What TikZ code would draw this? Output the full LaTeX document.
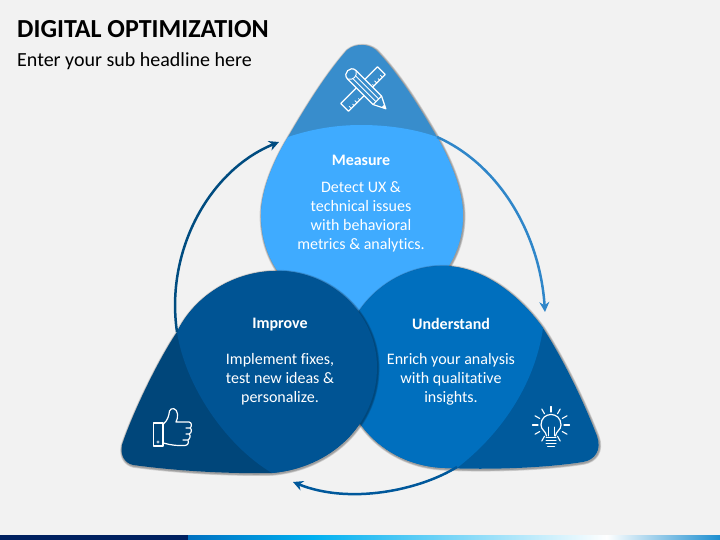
\documentclass[tikz,border=0pt]{standalone}
\usepackage{fontspec}
\setmainfont[Ligatures=NoCommon]{Carlito}
\usetikzlibrary{arrows.meta}
\definecolor{bgc}{HTML}{F2F2F2}
\definecolor{mDark}{HTML}{388DCC}
\definecolor{mLight}{HTML}{3FABFF}
\definecolor{lDark}{HTML}{00467A}
\definecolor{lLight}{HTML}{005494}
\definecolor{rDark}{HTML}{005A9C}
\definecolor{rLight}{HTML}{006FBE}
\definecolor{navy}{HTML}{002060}
\definecolor{arrA}{HTML}{2F86C9}
\definecolor{arrB}{HTML}{00589B}
\definecolor{arrC}{HTML}{004C80}
\definecolor{barA}{HTML}{0070C0}
\definecolor{barB}{HTML}{00B0F0}
\definecolor{barC}{HTML}{1C8ED0}
\def\shapeM{(347,50) .. controls (352,46) and (357,45) .. (362,45) .. controls (366,45) and (371,46) .. (376,50) .. controls (400,75) and (420,108) .. (437,137) .. controls (450,160) and (463,190) .. (463,215) .. controls (463,270) and (420,310) .. (362,318) .. controls (300,310) and (261,270) .. (261,215) .. controls (261,190) and (274,160) .. (288,137) .. controls (305,108) and (325,75) .. (347,50) -- cycle}
\def\shapeL{(277,271) .. controls (332,271) and (377,315) .. (377,367) .. controls (377,425) and (330,468) .. (272,473) .. controls (220,474) and (170,470) .. (133,465) .. controls (125,463) and (120,456) .. (122,445) .. controls (130,420) and (155,365) .. (177,332) .. controls (195,295) and (235,271) .. (277,271) -- cycle}
\def\shapeR{(443,266) .. controls (480,266) and (517,292) .. (543,328) .. controls (565,362) and (585,405) .. (597,436) .. controls (602,450) and (595,460) .. (583,462) .. controls (545,468) and (490,470) .. (445,468) .. controls (385,466) and (342,420) .. (342,367) .. controls (342,310) and (390,266) .. (443,266) -- cycle}
\newcommand{\softshadow}[1]{\foreach \w in {4,2.8,1.6}{\draw[black,opacity=.13,line width=\w pt,line join=round,shift={(.6,.8)}] #1;}}
\tikzset{
 head/.style={font=\bfseries\fontsize{16}{19}\selectfont,text=white,inner sep=0pt,align=center},
 body/.style={font=\fontsize{16}{19}\selectfont,text=white,inner sep=0pt,align=center},
 icon/.style={draw=white,line width=1.2pt,line join=round,line cap=round},
 flow/.style={line width=2.5pt,-{Stealth[length=10pt,width=10pt]}},
}
\begin{document}
\begin{tikzpicture}[x=1pt,y=-1pt]
\useasboundingbox (0,0) rectangle (720,540);
\fill[bgc] (0,0) rectangle (720,540);
% footer bar
\fill[navy] (0,535) rectangle (188,540);
\shade[left color=barA,right color=barB] (188,535) rectangle (313,540);
\shade[left color=barB,right color=white] (312.5,535) rectangle (607,540);
\shade[left color=white,right color=barC] (606.5,535) rectangle (720,540);
% title
\node[anchor=west,inner sep=0pt,font=\bfseries\fontsize{26}{30}\selectfont,text=black] (title) at (17,29) {DIGITAL OPTIMIZATION};
\node[anchor=west,inner sep=0pt,font=\fontsize{20}{24}\selectfont,text=black] (subtitle) at (17,61) {Enter your sub headline here};
% measure
\softshadow{\shapeM}
\fill[mDark] \shapeM;
\begin{scope}
\clip \shapeM;
\fill[mLight] (288,137) .. controls (312,129) and (336,125) .. (361,125) .. controls (388,125) and (415,129) .. (437,137) -- (480,150) -- (480,330) -- (240,330) -- (240,150) -- cycle;
\end{scope}
% understand
\softshadow{\shapeR}
\fill[rDark] \shapeR;
\begin{scope}
\clip \shapeR;
\fill[rLight] (543,328) .. controls (535,385) and (500,435) .. (457,468) -- (330,480) -- (330,255) -- (543,255) -- cycle;
\end{scope}
% improve
\softshadow{\shapeL}
\fill[lDark] \shapeL;
\begin{scope}
\clip \shapeL;
\fill[lLight] (177,332) .. controls (185,385) and (225,445) .. (272,473) -- (400,480) -- (400,260) -- (177,260) -- cycle;
\end{scope}
% connectors
\coordinate (a1) at (437,137);
\coordinate (a2) at (545,312);
\coordinate (b1) at (457,467);
\coordinate (b2) at (293,482);
\coordinate (c1) at (177,332);
\coordinate (c2) at (279,142);
\draw[flow,arrA] (a1) .. controls (500,165) and (540,235) .. (a2);
\draw[flow,arrB] (b1) .. controls (420,490) and (350,505) .. (b2);
\draw[flow,arrC] (c1) .. controls (165,250) and (210,170) .. (c2);
% ruler and pencil icon
\begin{scope}[shift={(363,89)},rotate=45]
\draw[icon] (-26,-5.5) rectangle (26,5.5);
\foreach \u/\l in {-22/3,-18/2,-14/3,-10/2,10/2,14/3,18/2,22/3}{\draw[icon,line width=.8pt] (\u,5.5) -- (\u,5.5-\l);}
\end{scope}
\begin{scope}[shift={(366,89)},rotate=-45]
\draw[icon,fill=mDark] (-20,-6) -- (16,-6) -- (28,0) -- (16,6) -- (-20,6) .. controls (-28,6) and (-28,-6) .. (-20,-6) -- cycle;
\draw[icon,line width=.9pt] (-20,-6) .. controls (-15,-3) and (-15,3) .. (-20,6);
\draw[icon,line width=.9pt] (-17,-2) -- (16,-2) (-17,2) -- (16,2);
\draw[icon,line width=.9pt] (16,-6) -- (16,6);
\fill[white] (24,-2) -- (28,0) -- (24,2) -- cycle;
\end{scope}
% thumb icon
\draw[icon] (153.5,423) rectangle (163,446);
\fill[white,opacity=.7] (158,442) circle (1.7);
\draw[icon] (163.5,424) .. controls (168,420) and (169,415) .. (169.5,411) .. controls (171,407) and (177,408) .. (177.5,414) .. controls (178,417) and (177,420) .. (176,422) -- (189,422) .. controls (192,422) and (192,427) .. (190,428) -- (186,428) (190,428) .. controls (192,429) and (192,433) .. (189,434) -- (186,434) (189,434) .. controls (191,435) and (190,439) .. (188,440) -- (183,440) (188,440) .. controls (189,443) and (188,445) .. (185,445.5) .. controls (178,446) and (170,445) .. (163.5,443);
% bulb icon
\draw[icon] (546.5,436) .. controls (546,431) and (541,430) .. (541,425) .. controls (541,418) and (546,414.5) .. (551,414.5) .. controls (556,414.5) and (561,418) .. (561,425) .. controls (561,430) and (556,431) .. (555.5,436);
\draw[icon,line width=.9pt] (548,436) -- (548,427) (554,436) -- (554,427);
\draw[icon,line width=1pt] (546,437) -- (556,437) (546,440) -- (556,440) (546,443) -- (556,443) (547.5,446) -- (554.5,446);
\foreach \a in {90,60,30,0,-30,-60,120,150,180,210,240}{\draw[icon,line width=1.1pt] (551,425) ++({13*cos(\a)},{-13*sin(\a)}) -- ++({5.5*cos(\a)},{-5.5*sin(\a)});}
% texts
\node[head] (mh) at (361,160.5) {Measure};
\node[body] (mb) at (361,216.5) {Detect UX \&\\technical issues\\with behavioral\\metrics \& analytics.};
\node[head] (ih) at (280,325) {Improve};
\node[body] (ib) at (280,379) {Implement fixes,\\test new ideas \&\\personalize.};
\node[head] (uh) at (451,324) {Understand};
\node[body] (ub) at (451,379) {Enrich your analysis\\with qualitative\\insights.};
\end{tikzpicture}
\end{document}
